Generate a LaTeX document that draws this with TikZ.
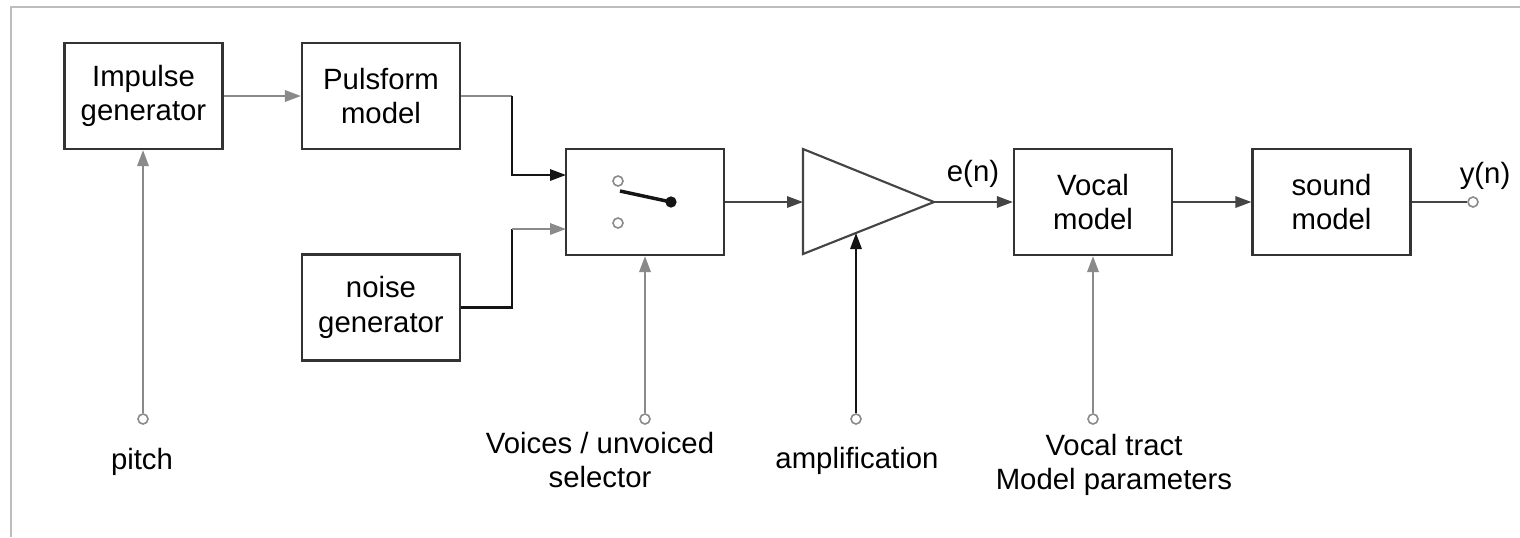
\documentclass[tikz,border=0pt]{standalone}
\usepackage{fontspec}
\setmainfont{Liberation Sans}
\usetikzlibrary{arrows.meta,calc}

\definecolor{boxc}{HTML}{333333}
\definecolor{greyc}{HTML}{8A8A8A}
\definecolor{blackc}{HTML}{141414}
\definecolor{darkc}{HTML}{444444}
\definecolor{framec}{HTML}{BDBDBD}

\newcommand\diafont{\fontsize{22pt}{26pt}\selectfont}

\tikzset{
  blockbox/.style={draw=boxc, line width=1.6pt, minimum width=118.5pt,
    minimum height=79.5pt, inner sep=0pt, align=center, font=\diafont},
  lbl/.style={inner sep=0pt, align=center, font=\diafont},
  tip/.style={-{Triangle[length=12pt,width=8.5pt]}},
  gline/.style={draw=greyc, line width=1.7pt},
  kline/.style={draw=blackc, line width=1.6pt},
  dline/.style={draw=darkc, line width=1.6pt},
  port/.style={circle, draw=greyc, fill=white, line width=1.2pt,
    minimum size=7.5pt, inner sep=0pt},
  pivot/.style={circle, fill=blackc, minimum size=8.5pt, inner sep=0pt},
}

\begin{document}
\begin{tikzpicture}[x=0.75pt, y=-0.75pt]
  \useasboundingbox (0,0) rectangle (1520,537);

  % thin page frame
  \draw[framec, line width=0.9pt] (1520,7) -- (11,7) -- (11,537);

  % blocks
  \node[blockbox] (imp) at (143.5,96)  {Impulse\\generator};
  \node[blockbox] (pul) at (381,96)    {Pulsform\\model};
  \node[blockbox] (noi) at (381,307.5) {noise\\generator};
  \node[blockbox] (sw)  at (645,202)   {};
  \node[blockbox] (voc) at (1093,202)  {Vocal\\model};
  \node[blockbox] (snd) at (1331.5,202){sound\\model};

  % amplifier triangle
  \coordinate (ta) at (803,149);
  \coordinate (tb) at (803,254);
  \coordinate (tc) at (934,202);
  \coordinate (tin) at (803,202);
  \coordinate (ampfoot) at (856,233);
  \draw[dline, line join=miter] (ta) -- (tc) -- (tb) -- cycle;

  % switch inside the selector block
  \node[port] (s1) at (618,181) {};
  \node[port] (s2) at (618,223) {};
  \node[pivot] (piv) at (671,202) {};
  \coordinate (lev) at (620,191);
  \draw[blackc, line width=2.6pt] (lev) -- (piv.center);

  % terminals
  \node[port] (pitchin) at (143,419) {};
  \node[port] (selin)   at (645,419) {};
  \node[port] (ampin)   at (856,419) {};
  \node[port] (vtin)    at (1093,419) {};
  \node[port] (yout)    at (1473,202) {};

  % labels
  \node[lbl] (pitchlbl) at (142,462)  {pitch};
  \node[lbl] (sellbl)   at (600,460)  {Voices / unvoiced\\selector};
  \node[lbl] (amplbl)   at (857,461)  {amplification};
  \node[lbl] (vtlbl)    at (1114,465) {Vocal tract\\Model parameters};
  \node[lbl] (enlbl)    at (973,174)  {e(n)};
  \node[lbl] (ynlbl)    at (1485,176) {y(n)};

  % bend points of the two source paths
  \coordinate (pb)   at (512,96);
  \coordinate (nb)   at (512,229);
  \coordinate (swin1) at (566,175);
  \coordinate (swin2) at (566,229);

  % connectors
  \draw[gline, tip] (imp) -- (pul);
  \draw[gline] (pul.east) -- (pb);
  \draw[kline, tip] (pb) |- (swin1);
  \draw[kline] (noi.east) -| (nb);
  \draw[gline, tip] (nb) -- (swin2);
  \draw[dline, tip] (sw.east) -- (tin);
  \draw[dline, tip] (tc) -- (voc.west);
  \draw[dline, tip] (voc) -- (snd);
  \draw[dline] (snd.east) -- (yout);

  \draw[gline, tip] (pitchin) -- (pitchin |- imp.south);
  \draw[gline, tip] (selin) -- (sw.south);
  \draw[kline, tip] (ampin) -- (ampfoot);
  \draw[gline, tip] (vtin) -- (voc.south);
\end{tikzpicture}
\end{document}
